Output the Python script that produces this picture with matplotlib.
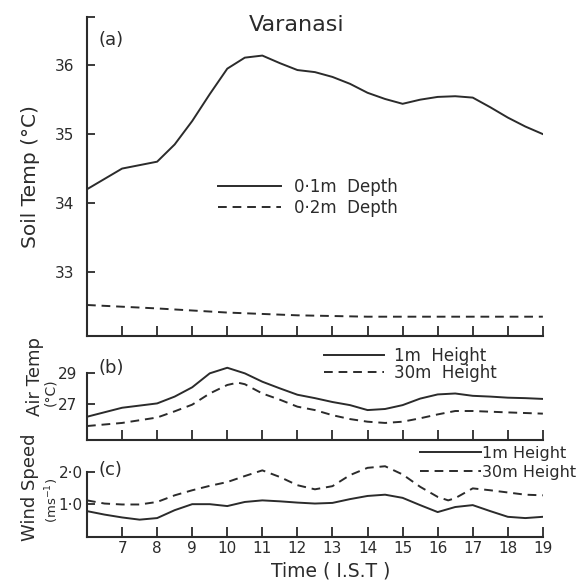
import matplotlib
matplotlib.use("Agg")
import matplotlib.pyplot as plt

# ---- data: hourly course at Varanasi (I.S.T.) ----
soil_t = [6, 6.5, 7, 7.5, 8, 8.5, 9, 9.5, 10, 10.5, 11, 11.5, 12, 12.5, 13, 13.5,
          14, 14.5, 15, 15.5, 16, 16.5, 17, 17.5, 18, 18.5, 19]
soil_01 = [34.2, 34.35, 34.5, 34.55, 34.6, 34.85, 35.19, 35.58, 35.95, 36.11, 36.14,
           36.03, 35.93, 35.9, 35.83, 35.73, 35.6, 35.51, 35.44, 35.5, 35.54, 35.55,
           35.53, 35.39, 35.24, 35.11, 35.0]
soil_t2 = [6, 8, 10, 12, 13, 14, 16, 19]
soil_02 = [32.52, 32.47, 32.41, 32.37, 32.36, 32.35, 32.35, 32.35]

air_t = [6, 7, 8, 8.5, 9, 9.5, 10, 10.5, 11, 11.5, 12, 12.5, 13, 13.5, 14, 14.5,
         15, 15.5, 16, 16.5, 17, 17.5, 18, 18.5, 19]
air_1m = [26.2, 26.78, 27.06, 27.5, 28.1, 29.0, 29.36, 29.0, 28.46, 28.03, 27.62,
          27.4, 27.15, 26.95, 26.63, 26.7, 26.95, 27.37, 27.64, 27.7, 27.55, 27.5,
          27.43, 27.4, 27.35]
air_t30 = [6, 7, 8, 8.5, 9, 9.5, 10, 10.3, 10.5, 11, 11.5, 12, 12.5, 13, 13.5, 14,
           14.5, 15, 15.5, 16, 16.5, 17, 18, 19]
air_30m = [25.6, 25.8, 26.15, 26.55, 26.98, 27.7, 28.25, 28.4, 28.3, 27.7, 27.3,
           26.85, 26.63, 26.3, 26.05, 25.88, 25.8, 25.88, 26.1, 26.35, 26.57, 26.57,
           26.48, 26.4]

wind_t = [6, 6.5, 7, 7.5, 8, 8.5, 9, 9.5, 10, 10.5, 11, 11.5, 12, 12.5, 13, 13.5,
          14, 14.5, 15, 15.5, 16, 16.5, 17, 17.5, 18, 18.5, 19]
wind_1m = [0.76, 0.65, 0.56, 0.49, 0.54, 0.79, 0.98, 0.98, 0.92, 1.05, 1.1, 1.07,
           1.03, 1.0, 1.02, 1.14, 1.24, 1.28, 1.18, 0.95, 0.73, 0.89, 0.95, 0.76,
           0.58, 0.54, 0.58]
wind_t30 = [6, 6.5, 7, 7.5, 8, 8.5, 9, 9.5, 10, 10.5, 11, 11.5, 12, 12.5, 13, 13.5,
            14, 14.5, 15, 15.5, 16, 16.3, 16.5, 17, 17.5, 18, 18.5, 19]
wind_30m = [1.1, 1.0, 0.97, 0.97, 1.05, 1.26, 1.42, 1.56, 1.68, 1.87, 2.05, 1.84,
            1.58, 1.45, 1.55, 1.9, 2.13, 2.18, 1.92, 1.53, 1.21, 1.1, 1.17, 1.48,
            1.42, 1.35, 1.28, 1.26]

hours = list(range(7, 20))
hour_labels = [str(h) for h in hours]

ink = "#2b2b2b"
lw = 1.4
dash = (0, (4.5, 3))

plt.rcParams["font.family"] = "DejaVu Sans"
fig = plt.figure(figsize=(5.8, 5.82), dpi=100)


def fx(px):
    return px / 580


def fy(py):
    return 1 - py / 582


L, W = 0.150, 0.786
ax_a = fig.add_axes([L, 0.4227, W, 0.5481])
ax_b = fig.add_axes([L, 0.2440, W, 0.1265])
ax_c = fig.add_axes([L, 0.0778, W, 0.1276])


def style(ax, ylim, bounds, yticks, ylabels, ypad):
    ax.set_xlim(6, 19)
    ax.set_ylim(*ylim)
    for s in ("top", "right"):
        ax.spines[s].set_visible(False)
    for s in ("left", "bottom"):
        ax.spines[s].set_linewidth(1.5)
        ax.spines[s].set_color(ink)
    ax.spines["left"].set_bounds(*bounds)
    ax.set_xticks(hours)
    ax.set_yticks(yticks, labels=ylabels)
    ax.tick_params(axis="x", direction="in", length=7, width=1.3, color=ink,
                   labelsize=11, pad=3, labelcolor=ink)
    ax.tick_params(axis="y", direction="in", length=6, width=1.3, color=ink,
                   labelsize=11, pad=ypad, labelcolor=ink)
    ax.patch.set_alpha(0)


# (a) soil temperature
ax_a.plot(soil_t, soil_01, color=ink, lw=lw, label="0·1m  Depth")
ax_a.plot(soil_t2, soil_02, color=ink, lw=lw, ls=dash, label="0·2m  Depth")
style(ax_a, (32.07, 36.7), (32.07, 36.7), [33, 34, 35, 36, 36.7],
      ["33", "34", "35", "36", ""], 9)
ax_a.set_xticklabels([])
ax_a.legend(loc="upper left", bbox_to_anchor=(fx(218), fy(178)),
            bbox_transform=fig.transFigure, frameon=False, fontsize=12,
            handlelength=3.8, handletextpad=0.75, labelspacing=0.2,
            borderpad=0, borderaxespad=0, labelcolor=ink)

# (b) air temperature
ax_b.plot(air_t, air_1m, color=ink, lw=lw, label="1m  Height")
ax_b.plot(air_t30, air_30m, color=ink, lw=lw, ls=dash, label="30m  Height")
style(ax_b, (24.7, 29.45), (24.7, 29.0), [27, 29], ["27", "29"], 7)
ax_b.set_xticklabels([])
ax_b.legend(loc="upper left", bbox_to_anchor=(fx(324), fy(347)),
            bbox_transform=fig.transFigure, frameon=False, fontsize=12,
            handlelength=3.6, handletextpad=0.6, labelspacing=-0.05,
            borderpad=0, borderaxespad=0, labelcolor=ink)

# (c) wind speed
ax_c.plot(wind_t, wind_1m, color=ink, lw=lw, label="1m Height")
ax_c.plot(wind_t30, wind_30m, color=ink, lw=lw, ls=dash, label="30m Height")
style(ax_c, (-0.05, 2.3), (-0.05, 2.0), [1.0, 2.0], ["1·0", "2·0"], 3)
ax_c.set_xticklabels(hour_labels)
ax_c.legend(loc="upper left", bbox_to_anchor=(fx(420), fy(446)),
            bbox_transform=fig.transFigure, frameon=False, fontsize=11.5,
            handlelength=3.8, handletextpad=0.1, labelspacing=0.25,
            borderpad=0, borderaxespad=0, labelcolor=ink)

# title, panel letters and axis titles
fig.text(fx(297), fy(25), "Varanasi", ha="center", va="center",
         fontsize=16, color=ink)
fig.text(fx(99), fy(40), "(a)", fontsize=13, color=ink, va="center")
fig.text(fx(99), fy(368), "(b)", fontsize=13, color=ink, va="center")
fig.text(fx(99), fy(470), "(c)", fontsize=13, color=ink, va="center")
fig.text(fx(31), fy(177), "Soil Temp (°C)", rotation=90, ha="center",
         va="center", fontsize=14.5, color=ink)
fig.text(fx(35), fy(377), "Air Temp", rotation=90, ha="center",
         va="center", fontsize=13, color=ink)
fig.text(fx(50), fy(392), "(°C)", rotation=90, ha="center",
         va="center", fontsize=10, color=ink)
fig.text(fx(30), fy(487), "Wind Speed", rotation=90, ha="center",
         va="center", fontsize=13, color=ink)
fig.text(fx(52), fy(500), "(ms$^{-1}$)", rotation=90, ha="center",
         va="center", fontsize=9.5, color=ink)
fig.text(fx(331), fy(571), "Time ( I.S.T )", ha="center", va="center",
         fontsize=13.5, color=ink)

fig.savefig("out.png", dpi=100, facecolor="white")
